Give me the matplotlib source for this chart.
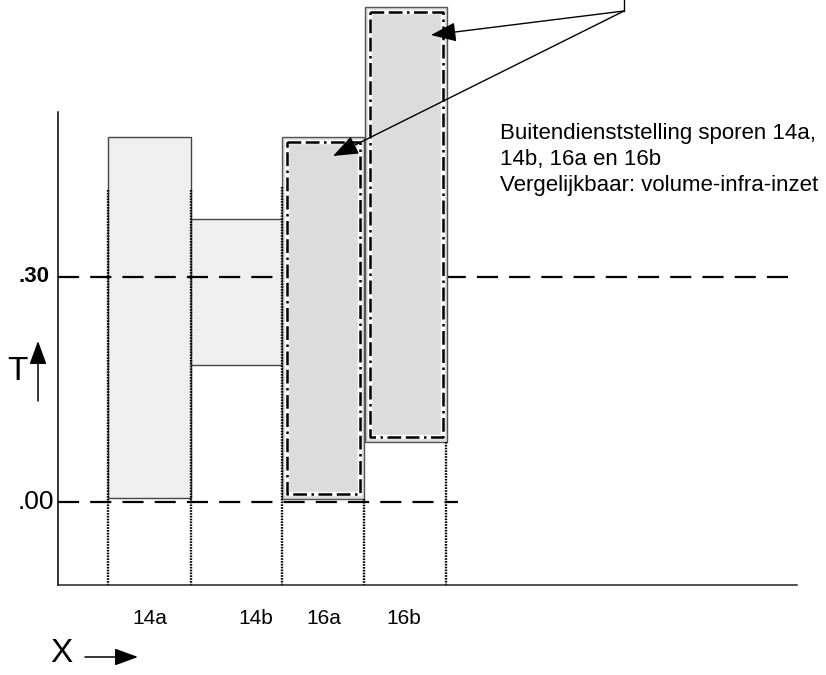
import matplotlib
matplotlib.use('Agg')
import matplotlib.pyplot as plt
from matplotlib.patches import Rectangle

plt.rcParams['font.family'] = ['Liberation Sans', 'DejaVu Sans']

# Tracks (sporen) with their x-extent and the T-range of each block
tracks = ['14a', '14b', '16a', '16b']
x_start = [108, 191, 282, 365]
x_end = [191, 282, 364, 447]
t_low = [0.005, 0.183, 0.004, 0.080]
t_high = [0.487, 0.377, 0.487, 0.660]
highlighted = [False, False, True, True]

# reference levels on the T axis
ref_levels = [0.00, 0.30]
ref_labels = ['.00', '.30']
ref_ends = [458, 797]

# vertical dotted track boundaries and where they start
boundary_x = [108, 191, 282, 364, 446]
boundary_top = [0.416, 0.416, 0.42, 0.004, 0.080]

label_x = [150, 256, 324, 404]

note = 'Buitendienststelling sporen 14a,\n14b, 16a en 16b\nVergelijkbaar: volume-infra-inzet'

# px -> T : .00 at y=502, .30 at y=277
def ty(px):
    return (502 - px) / 750.0

fig = plt.figure(figsize=(8.26, 6.75), dpi=100)
ax = fig.add_axes([0, 0, 1, 1])
ax.set_xlim(0, 826)
ax.set_ylim(ty(675), ty(0))
ax.axis('off')

# blocks
for i in range(len(tracks)):
    w = x_end[i] - x_start[i]
    h = t_high[i] - t_low[i]
    if highlighted[i]:
        ax.add_patch(Rectangle((x_start[i], t_low[i]), w, h, facecolor='#dcdcdc',
                               edgecolor='#555555', lw=1.0, zorder=3))
        dx, dt = 4.5, 5.0 / 750
        xs = [x_start[i] + dx, x_end[i] - dx, x_end[i] - dx, x_start[i] + dx, x_start[i] + dx]
        ys = [t_high[i] - dt, t_high[i] - dt, t_low[i] + dt, t_low[i] + dt, t_high[i] - dt]
        ax.plot(xs, ys, color='white', lw=3.2, zorder=4, solid_joinstyle='miter')
        ax.plot(xs, ys, color='black', lw=1.8, zorder=5, linestyle=(0, (5.5, 1.8, 5.5, 1.8, 1, 1.8)))
    else:
        ax.add_patch(Rectangle((x_start[i], t_low[i]), w, h, facecolor='#efefef',
                               edgecolor='#444444', lw=1.0, zorder=1))

# reference dashed lines
for lev, end in zip(ref_levels, ref_ends):
    ax.plot([58, end], [lev, lev], color='black', lw=1.6, dashes=(9.5, 5), zorder=2)

ax.text(49, ty(277), ref_labels[1], ha='right', va='center', fontsize=16, fontweight='bold')
ax.text(54, ty(502), ref_labels[0], ha='right', va='center', fontsize=19)

# dotted boundaries
for bx, bt in zip(boundary_x, boundary_top):
    ax.plot([bx, bx], [bt, ty(585)], color='black', lw=1.7, linestyle=(0, (0.7, 0.5)), zorder=6)

# axes
ax.plot([58, 58], [ty(112), ty(585)], color='black', lw=1.1, zorder=6)
ax.plot([58, 797], [ty(585), ty(585)], color='#222222', lw=1.1, zorder=6)

for lx, name in zip(label_x, tracks):
    ax.text(lx, ty(618), name, ha='center', va='center', fontsize=15)

# axis names with arrows
ax.text(17, ty(372), 'T', ha='center', va='center', fontsize=24)
ax.annotate('', xy=(38, ty(341)), xytext=(38, ty(401)),
            arrowprops=dict(arrowstyle='-|>,head_length=0.6,head_width=0.22', color='black',
                            lw=1.1, mutation_scale=24, shrinkA=0, shrinkB=0))
ax.text(61, ty(654), 'X', ha='center', va='center', fontsize=24)
ax.annotate('', xy=(138, ty(657)), xytext=(85, ty(657)),
            arrowprops=dict(arrowstyle='-|>,head_length=0.6,head_width=0.22', color='black',
                            lw=1.1, mutation_scale=24, shrinkA=0, shrinkB=0))

# callout arrows
ax.plot([624, 624], [ty(0), ty(11)], color='black', lw=1.0, zorder=7)
for tip_x, tip_y in [(431, 35), (333, 156)]:
    ax.annotate('', xy=(tip_x, ty(tip_y)), xytext=(624, ty(11)), zorder=7,
                arrowprops=dict(arrowstyle='-|>,head_length=0.65,head_width=0.25', color='black',
                                lw=1.0, mutation_scale=24, shrinkA=0, shrinkB=0))

ax.text(500, ty(123), note, ha='left', va='top', fontsize=16, linespacing=1.32)

fig.savefig('out.png', dpi=100)
